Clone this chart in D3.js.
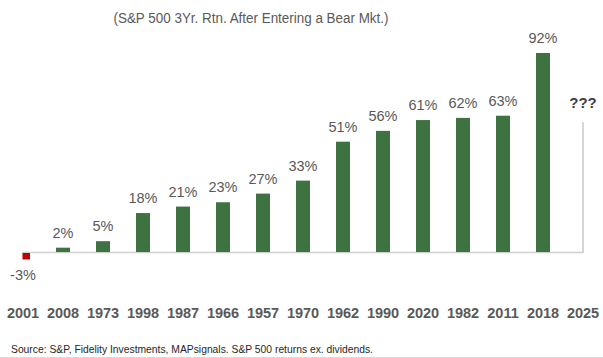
<!DOCTYPE html>
<html><head><meta charset="utf-8">
<script src="https://cdn.jsdelivr.net/npm/d3@7"></script>
<style>html,body{margin:0;padding:0;background:#fff;}svg{display:block;}</style>
</head><body>
<svg id="c" width="603" height="358"></svg>
<script>
const categories = ["2001","2008","1973","1998","1987","1966","1957","1970","1962","1990","2020","1982","2011","2018","2025"];
const values = [-3, 2, 5, 18, 21, 23, 27, 33, 51, 56, 61, 62, 63, 92, null];
const valueLabels = ["-3%","2%","5%","18%","21%","23%","27%","33%","51%","56%","61%","62%","63%","92%","???"];
const placeholderValue = 60; // height of the thin grey 2025 marker
const title = "(S&P 500 3Yr. Rtn. After Entering a Bear Mkt.)";
const source = "Source: S&P, Fidelity Investments, MAPsignals. S&P 500 returns ex. dividends.";

const svg = d3.select("#c");
const x = d3.scaleBand().domain(categories).range([3, 603]).padding(0);
const y = d3.scaleLinear().domain([0, 92]).range([252, 53]);
const cx = c => x(c) + x.bandwidth() / 2;
const barW = 14;

svg.append("text").attr("x", 251).attr("y", 23).attr("text-anchor", "middle")
  .attr("font-family", "Liberation Sans, Arial, sans-serif").attr("font-size", 14)
  .attr("textLength", 275).attr("lengthAdjust", "spacingAndGlyphs")
  .attr("fill", "#595959").text(title);

// baseline
svg.append("line").attr("x1", cx(categories[0]) - 1).attr("x2", cx(categories[categories.length-1]))
  .attr("y1", y(0) + 0.5).attr("y2", y(0) + 0.5).attr("stroke", "#d0d0d0").attr("stroke-width", 1.5);

// placeholder 2025 line
const last = categories[categories.length-1];
svg.append("line").attr("x1", cx(last)).attr("x2", cx(last))
  .attr("y1", y(placeholderValue)).attr("y2", y(0) + 1).attr("stroke", "#c8c8c8").attr("stroke-width", 1.5);

const data = categories.map((c, i) => ({c, v: values[i], l: valueLabels[i]}));

svg.selectAll("rect.bar").data(data.filter(d => d.v !== null)).enter().append("rect")
  .attr("class", "bar")
  .attr("x", d => d.v < 0 ? cx(d.c) - 0.5 : cx(d.c) - barW / 2)
  .attr("width", d => d.v < 0 ? 7.5 : barW)
  .attr("y", d => d.v < 0 ? y(0) + 1 : y(d.v))
  .attr("height", d => d.v < 0 ? y(d.v) - y(0) - 0 : y(0) - y(d.v))
  .attr("fill", d => d.v < 0 ? "#c00000" : "#3e7341");

svg.selectAll("text.val").data(data).enter().append("text")
  .attr("class", "val")
  .attr("x", d => cx(d.c))
  .attr("y", d => d.v === null ? y(placeholderValue) - 14 : (d.v < 0 ? y(d.v) + 22 : y(d.v) - 10))
  .attr("text-anchor", "middle")
  .attr("font-family", "Liberation Sans, Arial, sans-serif")
  .attr("font-size", d => d.v === null ? 15 : 14.5)
  .attr("font-weight", d => d.v === null ? "bold" : "normal")
  .attr("fill", d => d.v === null ? "#404040" : "#595959")
  .text(d => d.l);

// x axis labels
svg.append("g").attr("transform", "translate(0,318)")
  .call(d3.axisBottom(x).tickSize(0).tickPadding(0))
  .call(g => g.select(".domain").remove())
  .selectAll("text").attr("dy", 0).attr("y", 0)
  .attr("font-family", "Liberation Sans, Arial, sans-serif").attr("font-size", 14.5)
  .attr("font-weight", "bold").attr("fill", "#595959");

svg.append("text").attr("x", 11).attr("y", 353)
  .attr("font-family", "Liberation Sans, Arial, sans-serif").attr("font-size", 11)
  .attr("textLength", 362).attr("lengthAdjust", "spacingAndGlyphs")
  .attr("fill", "#262626").text(source);

svg.append("line").attr("x1", 0).attr("x2", 603).attr("y1", 357.5).attr("y2", 357.5)
  .attr("stroke", "#d9d9d9").attr("stroke-width", 1);
</script>
</body></html>
